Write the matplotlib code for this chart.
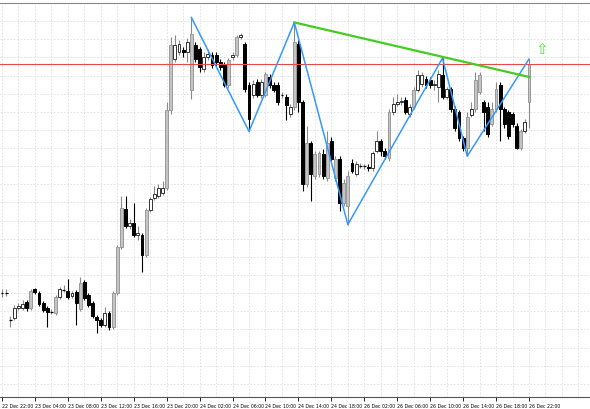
import matplotlib
matplotlib.use("Agg")
import matplotlib.pyplot as plt
import numpy as np

# Candles in screen-derived price units (higher = higher price)
opens_px = [293,293,320,318,308,308,302,308,289,293,303,308,312,313,297,290,291,296,292,309,282,295,303,317,320,325,313,327,293,247,
            208,225,222,235,235,255,209,197,195,192,187,108,57,50,48,50,88,43,47,67,55,53,53,60,63,83,55,53,35,42,
            83,93,80,93,93,75,83,83,93,95,112,105,42,100,183,142,175,173,153,177,140,177,158,202,205,162,173,165,165,166,
            167,150,140,150,157,110,102,100,98,112,105,88,82,77,78,83,85,73,95,87,107,110,137,147,113,107,90,100,105,123,
            107,83,107,110,112,125,147,130,100]
closes_px = [293,293,320,308,306,304,308,291,292,304,310,312,312,297,289,290,297,293,303,283,298,305,316,320,325,313,327,293,247,207,
             225,222,235,233,255,209,198,193,187,187,108,43,43,42,50,40,32,57,65,55,52,63,60,65,83,58,53,35,33,87,
             117,82,93,80,72,83,88,100,93,103,105,40,100,183,142,173,153,152,175,142,158,158,202,182,175,170,163,165,165,167,
             152,140,150,155,110,102,100,99,110,105,88,73,73,83,83,82,72,95,87,107,127,137,147,115,107,78,73,110,133,107,
             87,107,123,135,123,147,130,120,62]
highs_px = [289,289,316,305,303,300,300,289,288,291,301,306,309,295,287,285,279,291,290,277,280,293,301,315,318,307,311,291,245,195,
            195,218,202,225,233,207,196,185,183,180,100,35,33,38,45,36,15,40,45,50,48,50,50,57,60,56,50,33,31,40,
            80,78,77,77,70,72,80,80,90,92,102,20,38,98,125,140,150,150,148,130,136,155,155,178,170,158,160,162,163,163,
            150,130,138,147,107,95,92,95,95,102,85,68,70,74,75,78,68,56,85,85,104,108,135,110,100,70,70,98,100,100,
            80,80,105,108,110,122,128,117,57]
lows_px = [297,296,327,320,310,310,311,310,294,306,312,327,314,315,299,292,299,298,325,311,300,307,318,333,327,327,330,329,295,249,
           227,228,237,240,272,257,211,199,197,194,189,112,60,53,55,60,97,60,70,70,58,66,64,68,85,86,58,55,37,90,
           130,96,95,96,95,86,90,103,96,118,115,108,110,190,186,200,178,176,178,180,160,180,210,205,224,172,175,167,168,170,
           170,152,155,158,160,113,104,103,112,115,107,90,85,86,86,88,100,97,97,110,130,140,150,155,115,110,92,130,136,125,
           110,140,127,138,126,148,149,132,127]

opens = [400 - v for v in opens_px]
closes = [400 - v for v in closes_px]
highs = [400 - v for v in highs_px]
lows = [400 - v for v in lows_px]

tick_labels = ["22 Dec 22:00", "23 Dec 04:00", "23 Dec 08:00", "23 Dec 12:00", "23 Dec 16:00",
               "23 Dec 20:00", "24 Dec 02:00", "24 Dec 06:00", "24 Dec 10:00", "24 Dec 14:00",
               "24 Dec 18:00", "26 Dec 02:00", "26 Dec 06:00", "26 Dec 10:00", "26 Dec 14:00",
               "26 Dec 18:00", "26 Dec 22:00"]

zigzag_idx = [46, 60, 71, 84, 107, 113, 128]
zigzag_val = [385, 270, 380, 176, 344, 245, 343]
trend_idx = [71, 128]
trend_val = [380, 325]
resistance = 338

fig = plt.figure(figsize=(5.9, 4.1), dpi=100)
ax = fig.add_axes([0, 12/410, 1, 394/410])

n = len(opens)
for i in range(n):
    o, c, h, l = opens[i], closes[i], highs[i], lows[i]
    if c >= o:
        big = (c - o) > 15
        fc = '#c4c4c4' if big else 'white'
        ec = '#9a9a9a' if big else '#333333'
        wc = '#8a8a8a'
    else:
        fc = ec = wc = 'black'
    ax.vlines(i, l, h, color=wc, lw=0.8, zorder=2)
    lo, hi = min(o, c), max(o, c)
    if hi - lo < 0.8:
        ax.hlines(o, i - 0.35, i + 0.35, color='black', lw=0.9, zorder=3)
    else:
        ax.add_patch(plt.Rectangle((i - 0.35, lo), 0.7, hi - lo, facecolor=fc,
                                   edgecolor=ec, lw=0.7, zorder=3))

ax.axhline(resistance, color='#e84a4a', lw=0.8, zorder=4)
ax.plot(zigzag_idx, zigzag_val, color='#3399ff', lw=1.1, zorder=5)
ax.plot(trend_idx, trend_val, color='#44cc22', lw=1.6, zorder=5)
ax.text(131, 354, "⇧", color='#55dd44', fontsize=11, ha='center', va='center')

sp = 4.117
ax.set_xlim(-2 / sp, 588 / sp)
ax.set_ylim(2, 396)

ticks = np.arange(len(tick_labels)) * 8
ax.set_xticks(ticks)
ax.set_xticklabels(tick_labels, fontsize=3.3, ha='left')
ax.tick_params(axis='x', length=3, pad=1.5, width=0.6)
ax.set_xticks(np.arange(0, 144, 4), minor=True)
ax.tick_params(axis='x', which='minor', length=0)
ax.set_yticks(np.arange(400 - 201.7 - 18.3 * 10, 400, 18.3))
ax.tick_params(axis='y', length=0, labelleft=False)
ax.grid(True, which='both', color='#dddddd', ls=(0, (2, 2)), lw=0.6)
ax.set_axisbelow(True)
for s in ['left', 'right']:
    ax.spines[s].set_visible(False)
ax.spines['top'].set_color('#888888')
ax.spines['bottom'].set_color('#555555')

fig.savefig("out.png", dpi=100)
